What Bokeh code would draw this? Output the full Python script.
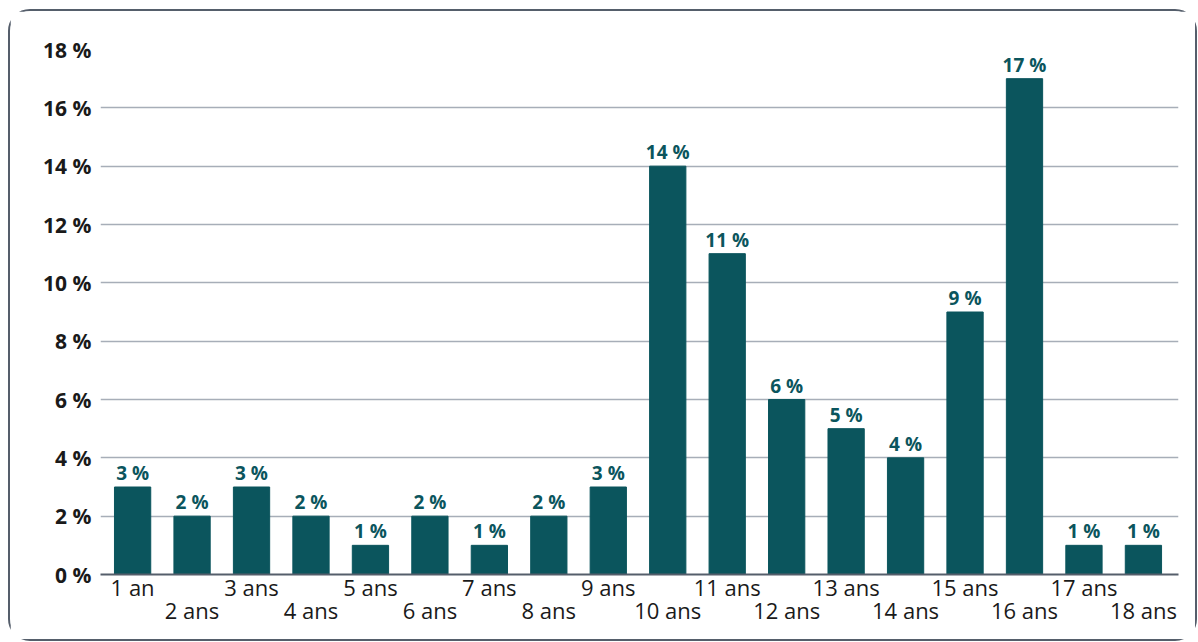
from bokeh.plotting import figure
from bokeh.models import ColumnDataSource, FixedTicker, Range1d, LinearAxis
from bokeh.core.properties import value
from bokeh.embed import file_html
from bokeh.resources import INLINE

categories = ["1 an", "2 ans", "3 ans", "4 ans", "5 ans", "6 ans", "7 ans", "8 ans", "9 ans",
              "10 ans", "11 ans", "12 ans", "13 ans", "14 ans", "15 ans", "16 ans", "17 ans", "18 ans"]
values = [3, 2, 3, 2, 1, 2, 1, 2, 3, 14, 11, 6, 5, 4, 9, 17, 1, 1]
y_ticks = [0, 2, 4, 6, 8, 10, 12, 14, 16, 18]

FONT = "Open Sans"
BAR = "#0b555d"

xs = list(range(1, len(categories) + 1))
src = ColumnDataSource(dict(x=xs, top=values, lab=[f"{v} %" for v in values]))

p = figure(width=1189, height=632, output_backend="svg", toolbar_location=None,
           x_range=Range1d(0.46, 18.59), y_range=Range1d(0, 18),
           min_border_left=90, min_border_right=21, min_border_top=38, min_border_bottom=69)
p.styles = {"border": "2px solid #555e6b", "border-radius": "22px", "box-sizing": "border-box",
            "margin-left": "8px", "margin-top": "9px"}
p.outline_line_color = None
p.background_fill_color = "white"

p.vbar(x="x", top="top", width=0.61, source=src, color=BAR)
p.text(x="x", y="top", text="lab", source=src, text_align="center", text_baseline="bottom",
       y_offset=-1, text_font=value(FONT), text_font_style="bold", text_font_size="19px",
       text_color=BAR)

# y axis
p.yaxis.ticker = FixedTicker(ticks=y_ticks)
p.yaxis.major_label_overrides = {t: f"{t} %" for t in y_ticks}
p.yaxis.axis_line_color = None
p.yaxis.major_tick_line_color = None
p.yaxis.minor_tick_line_color = None
p.yaxis.major_tick_in = 0
p.yaxis.major_tick_out = 0
p.yaxis.major_label_text_font = FONT
p.yaxis.major_label_text_font_style = "bold"
p.yaxis.major_label_text_font_size = "21px"
p.yaxis.major_label_text_color = "#1a1a1a"
p.yaxis.major_label_standoff = 9
p.ygrid.ticker = FixedTicker(ticks=y_ticks[1:])
p.ygrid.grid_line_color = "#a7aeb8"
p.ygrid.grid_line_width = 1.5
p.xgrid.grid_line_color = None


def style_x(ax, labels, standoff, line):
    ax.ticker = FixedTicker(ticks=xs)
    ax.major_label_overrides = labels
    ax.axis_line_color = "#555e6b" if line else None
    ax.axis_line_width = 2
    ax.major_tick_line_color = None
    ax.minor_tick_line_color = None
    ax.major_tick_in = 0
    ax.major_tick_out = 0
    ax.major_label_text_font = FONT
    ax.major_label_text_font_size = "22px"
    ax.major_label_text_color = "#1a1a1a"
    ax.major_label_standoff = standoff


odd = {x: (c if i % 2 == 0 else "") for i, (x, c) in enumerate(zip(xs, categories))}
even = {x: (c if i % 2 == 1 else "") for i, (x, c) in enumerate(zip(xs, categories))}
style_x(p.xaxis[0], odd, -3, True)
ax2 = LinearAxis()
style_x(ax2, even, -10, False)
p.add_layout(ax2, "below")

open("out.html", "w").write(file_html(p, INLINE))
